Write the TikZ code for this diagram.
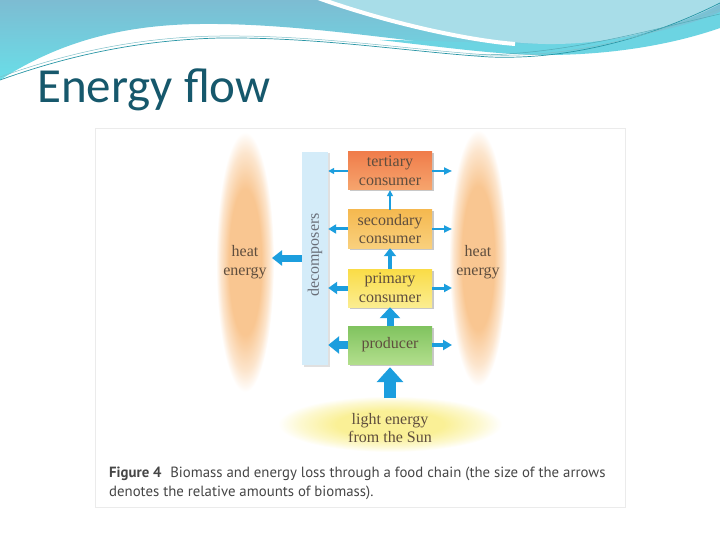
\documentclass[tikz,border=0pt]{standalone}
\usepackage{fontspec}
\setmainfont{Liberation Serif}
\newfontfamily\titlefont{Carlito}
\newfontfamily\capfont{PT Sans}
\usetikzlibrary{arrows.meta,shadows}
\definecolor{topA}{RGB}{125,188,210}
\definecolor{topB}{RGB}{105,222,232}
\definecolor{bandc}{RGB}{108,212,226}
\definecolor{lightc}{RGB}{168,221,232}
\definecolor{linec}{RGB}{40,150,165}
\definecolor{titlec}{RGB}{22,88,108}
\definecolor{heatc}{RGB}{249,198,145}
\definecolor{sunc}{RGB}{250,240,150}
\definecolor{arrowc}{RGB}{28,158,222}
\definecolor{boxtxt}{RGB}{95,78,62}
\definecolor{dectxt}{RGB}{105,110,120}
\definecolor{decc}{RGB}{212,236,249}
\definecolor{capc}{RGB}{70,70,70}
\definecolor{tertA}{RGB}{240,125,75}
\definecolor{tertB}{RGB}{246,165,110}
\definecolor{secA}{RGB}{245,185,80}
\definecolor{secB}{RGB}{249,208,125}
\definecolor{primA}{RGB}{250,220,70}
\definecolor{primB}{RGB}{251,237,145}
\definecolor{prodA}{RGB}{128,195,95}
\definecolor{prodB}{RGB}{178,222,140}
\pgfdeclareradialshading{heatglow}{\pgfpointorigin}{color(0bp)=(heatc); color(14bp)=(heatc); color(21bp)=(heatc!45!white); color(25bp)=(white); color(50bp)=(white)}
\pgfdeclareradialshading{sunglow}{\pgfpointorigin}{color(0bp)=(sunc); color(12bp)=(sunc); color(20bp)=(sunc!45!white); color(25bp)=(white); color(50bp)=(white)}
\newcommand\boxfont{\fontsize{16}{18.5}\selectfont}
\begin{document}
\begin{tikzpicture}[x=1pt,y=-1pt,
  box/.style={rectangle, minimum width=84pt, minimum height=38pt, inner sep=0pt, align=center, font=\boxfont, text=boxtxt,
    drop shadow={shadow xshift=1.5pt, shadow yshift=-1.5pt, opacity=0.3, fill=black!70}},
  lbl/.style={align=center, font=\boxfont, text=boxtxt, inner sep=0pt},
  flow/.style n args={3}{draw=arrowc, line width=#1, -{Triangle[width=#2,length=#3]}},
  captext/.style={anchor=base west, inner sep=0pt, font=\capfont\fontsize{14.8}{19}\selectfont, text=capc},
]
\useasboundingbox (0,0) rectangle (720,540);
\fill[white] (0,0) rectangle (720,540);
% top decoration
\shade[top color=topA, bottom color=topB] (0,0) -- (0,80) .. controls (50,48) and (110,25) .. (200,24) .. controls (290,23) and (380,38) .. (470,47) .. controls (550,55) and (640,48) .. (720,24) -- (720,0) -- cycle;
\fill[bandc] (380,40) .. controls (450,48) and (500,55) .. (545,55) .. controls (620,55) and (680,42) .. (720,28) -- (720,12) .. controls (680,30) and (610,44) .. (545,44) .. controls (490,44) and (430,40) .. (380,40) -- cycle;
\fill[lightc] (325,0) .. controls (390,22) and (470,42) .. (545,44) .. controls (620,45) and (680,25) .. (720,4) -- (720,0) -- cycle;
\draw[white, line width=4pt] (318,-2) .. controls (385,22) and (465,40) .. (515,44);
\draw[linec, line width=0.7pt] (0,80) .. controls (70,55) and (140,40) .. (220,38) .. controls (320,37) and (410,52) .. (490,57) .. controls (570,60) and (650,38) .. (720,3);
\draw[linec!60, line width=0.5pt] (0,77) .. controls (70,52) and (140,37) .. (220,36) .. controls (320,35) and (410,50) .. (490,55) .. controls (570,58) and (650,36) .. (720,9);
\draw[linec!80, line width=0.5pt] (470,55) .. controls (560,56) and (650,30) .. (720,14);
% title
\node[anchor=base west, font=\titlefont\fontsize{49}{58}\selectfont, text=titlec, inner sep=0pt] (title) at (37,103) {Energy flow};
% figure frame
\draw[draw=black!8, fill=white] (95,128) rectangle (625,507);
% glows
\shade[shading=heatglow] (245,262) ellipse (29 and 130);
\shade[shading=heatglow] (478,258) ellipse (29 and 128);
\shade[shading=sunglow] (390,424) ellipse (112 and 28);
% decomposers
\node[rectangle, minimum width=26pt, minimum height=213pt, inner sep=0pt, fill=decc,
  drop shadow={shadow xshift=1.5pt, shadow yshift=-1.5pt, opacity=0.2, fill=black!60}] (dec) at (315,258.5) {};
\node[lbl, rotate=90, text=dectxt] (decl) at (315,255) {decomposers};
% trophic boxes
\node[box, top color=tertA, bottom color=tertB] (tert) at (390,171) {tertiary\\consumer};
\node[box, top color=secA, bottom color=secB] (sec) at (390,229) {secondary\\consumer};
\node[box, top color=primA, bottom color=primB] (prim) at (390,288) {primary\\consumer};
\node[box, top color=prodA, bottom color=prodB] (prod) at (390,345) {producer};
% labels
\node[lbl] (heatL) at (245,262) {heat\\energy};
\node[lbl] (heatR) at (478,262) {heat\\energy};
\node[lbl] (sun) at (390,428) {light energy\\from the Sun};
% coordinates
\coordinate (sunTop) at (390,398);
\coordinate (heatLin) at (272,258);
\coordinate (hr) at (452,0);
% arrows up
\draw[flow={12pt}{26pt}{15pt}, shorten >=3pt] (sunTop) -- (prod.south);
\draw[flow={7pt}{20pt}{11pt}] (prod.north) -- (prim.south);
\draw[flow={4pt}{12pt}{8pt}] (prim.north) -- (sec.south);
\draw[flow={1.5pt}{6pt}{6pt}] (sec.north) -- (tert.south);
% arrows left
\draw[flow={8pt}{17pt}{11pt}] (prod.west) -- (prod.west -| dec.east);
\draw[flow={5pt}{12pt}{9pt}] (prim.west) -- (prim.west -| dec.east);
\draw[flow={3pt}{9pt}{8pt}] (sec.west) -- (sec.west -| dec.east);
\draw[flow={1.5pt}{6pt}{6pt}] (tert.west) -- (tert.west -| dec.east);
\draw[flow={7pt}{15pt}{10pt}] (dec.west |- heatLin) -- (heatLin);
% arrows right
\draw[flow={4pt}{10pt}{9pt}] (prod.east) -- (prod.east -| hr);
\draw[flow={3pt}{8pt}{8pt}] (prim.east) -- (prim.east -| hr);
\draw[flow={2pt}{7pt}{8pt}] (sec.east) -- (sec.east -| hr);
\draw[flow={2pt}{7pt}{8pt}] (tert.east) -- (tert.east -| hr);
% caption
\node[captext] (cap1) at (109,477) {\textbf{Figure 4}\hspace{0.6em}Biomass and energy loss through a food chain (the size of the arrows};
\node[captext] (cap2) at (109,496) {denotes the relative amounts of biomass).};
\end{tikzpicture}
\end{document}
